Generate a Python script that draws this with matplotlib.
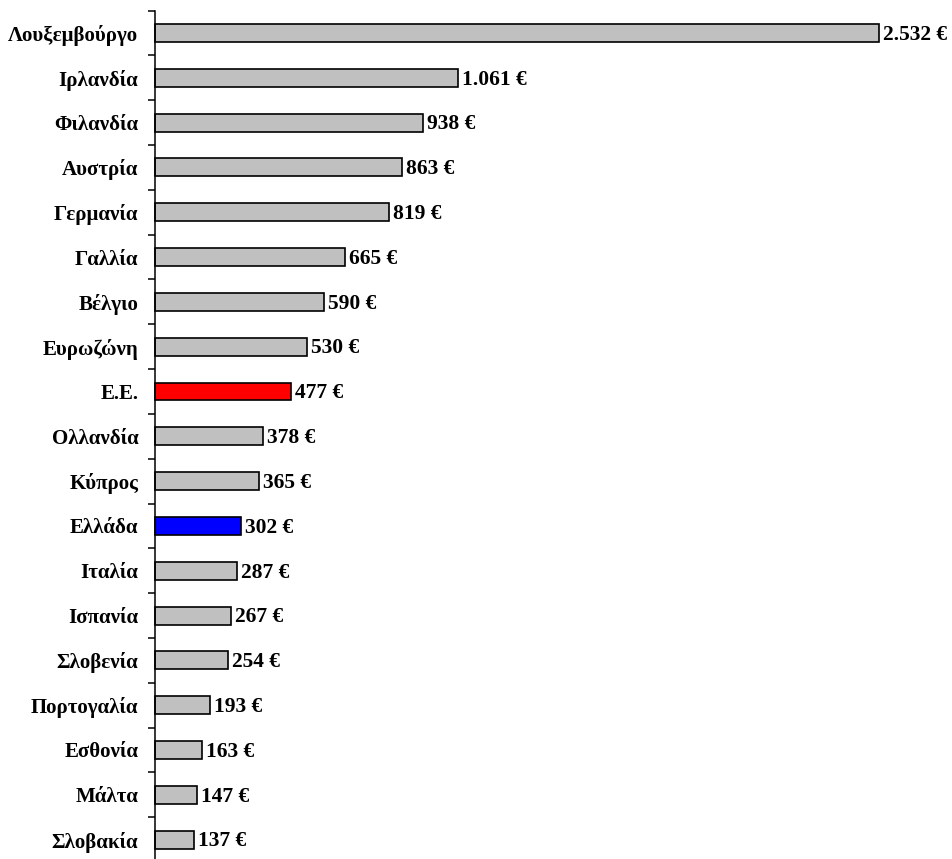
import matplotlib
matplotlib.use("Agg")
import matplotlib.pyplot as plt
import numpy as np

countries = ["Λουξεμβούργο", "Ιρλανδία", "Φιλανδία", "Αυστρία", "Γερμανία", "Γαλλία",
             "Βέλγιο", "Ευρωζώνη", "Ε.Ε.", "Ολλανδία", "Κύπρος", "Ελλάδα", "Ιταλία",
             "Ισπανία", "Σλοβενία", "Πορτογαλία", "Εσθονία", "Μάλτα", "Σλοβακία"]
values = [2532, 1061, 938, 863, 819, 665, 590, 530, 477, 378, 365, 302, 287, 267, 254,
          193, 163, 147, 137]
highlight = {"Ε.Ε.": "#FF0000", "Ελλάδα": "#0000FF"}

plt.rcParams['font.family'] = ['Liberation Serif', 'DejaVu Serif']
plt.rcParams['font.weight'] = 'bold'

W, H = 953, 859
fig = plt.figure(figsize=(W/100, H/100), dpi=100)
left = 155 / W
width = 724 / W
top_px, bot_px = 10.6, 862.0
ax = fig.add_axes([left, (H - bot_px) / H, width, (bot_px - top_px) / H])

y = np.arange(len(countries))
colors = [highlight.get(c, "#C0C0C0") for c in countries]
ax.barh(y, values, height=0.4, color=colors, edgecolor="black", linewidth=1.2, clip_on=False)

def fmt(v):
    return f"{v:,}".replace(",", ".") + " €"

for yi, v in zip(y, values):
    ax.text(v + 14, yi + 0.04, fmt(v), va="center", ha="left", fontsize=15.5, fontweight="bold")

ax.set_xlim(0, 2532)
ax.set_ylim(len(countries) - 0.5, -0.5)
ax.set_yticks(y)
ax.set_yticklabels(countries, fontsize=15, fontweight="bold")
ax.tick_params(axis='y', which='major', length=0, pad=12)
ax.set_yticks(np.arange(-0.5, len(countries) + 0.5, 1), minor=True)
ax.tick_params(axis='y', which='minor', length=5, width=1.1, direction='out')
ax.set_xticks([])
for s in ["top", "right", "bottom"]:
    ax.spines[s].set_visible(False)
ax.spines["left"].set_linewidth(1.1)

fig.savefig("out.png", dpi=100)
